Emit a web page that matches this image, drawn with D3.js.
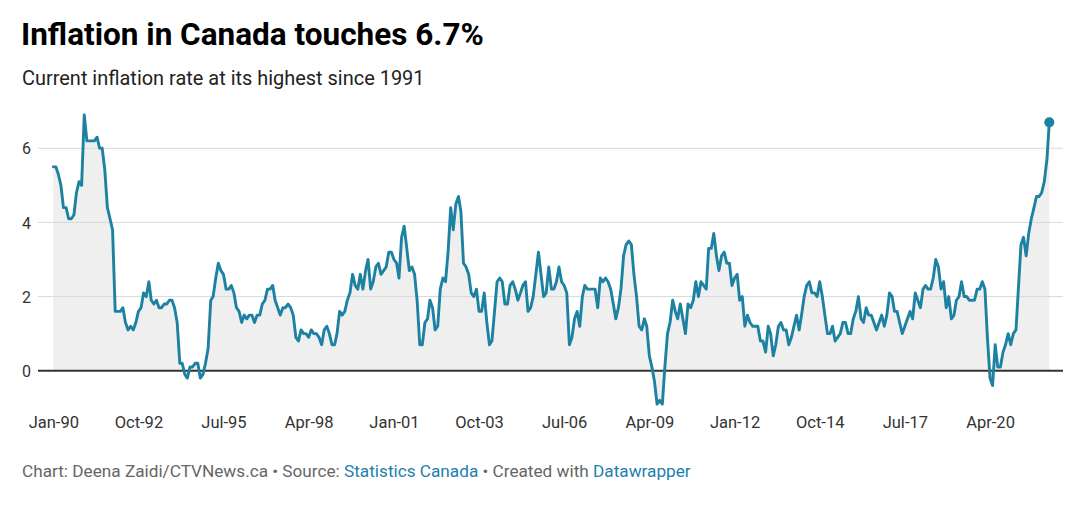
<!DOCTYPE html>
<html>
<head>
<meta charset="utf-8">
<script src="https://cdn.jsdelivr.net/npm/d3@7"></script>
<style>
  html, body { margin: 0; padding: 0; background: #fff; }
  svg { display: block; font-family: Roboto, "Noto Sans", sans-serif; }
</style>
</head>
<body>
<svg id="chart" width="1080" height="531"></svg>
<script>
// ---- Data: Canada CPI, 12-month % change, monthly from Jan-1990 ----
const startMonth = "1990-01";
const values1990s = [
  5.5, 5.5, 5.3, 5.0, 4.4, 4.4, 4.1, 4.1, 4.2, 4.8, 5.1, 5.0,
  6.9, 6.2, 6.2, 6.2, 6.2, 6.3, 6.0, 6.0, 5.4, 4.4, 4.1, 3.8,
  1.6, 1.6, 1.6, 1.7, 1.3, 1.1, 1.2, 1.1, 1.3, 1.6, 1.7, 2.1,
  2.0, 2.4, 1.9, 1.8, 1.9, 1.7, 1.7, 1.8, 1.8, 1.9, 1.9, 1.7,
  1.3, 0.2, 0.2, -0.1, -0.2, 0.1, 0.1, 0.2, 0.2, -0.2, -0.1, 0.2,
  0.6, 1.9, 2.0, 2.5, 2.9, 2.7, 2.6, 2.2, 2.2, 2.3, 2.1, 1.7,
  1.6, 1.3, 1.5, 1.4, 1.5, 1.5, 1.3, 1.5, 1.5, 1.8, 1.9, 2.2,
  2.2, 2.3, 1.9, 1.7, 1.5, 1.7, 1.7, 1.8, 1.7, 1.5, 0.9, 0.8,
  1.1, 1.0, 1.0, 0.9, 1.1, 1.0, 1.0, 0.9, 0.7, 1.1, 1.2, 1.0,
  0.7, 0.7, 1.0, 1.6, 1.5, 1.6, 1.9, 2.1, 2.6, 2.3, 2.2, 2.6
];
const values2000s = [
  2.2, 2.7, 3.0, 2.2, 2.4, 2.8, 2.9, 2.6, 2.7, 2.8, 3.2, 3.2,
  3.0, 2.9, 2.5, 3.6, 3.9, 3.3, 2.7, 2.8, 2.6, 1.9, 0.7, 0.7,
  1.3, 1.4, 1.9, 1.7, 1.1, 1.2, 2.2, 2.5, 2.4, 3.2, 4.4, 3.8,
  4.5, 4.7, 4.3, 2.9, 2.8, 2.6, 2.1, 2.0, 2.2, 1.6, 1.6, 2.1,
  1.3, 0.7, 0.8, 1.6, 2.4, 2.5, 2.4, 1.8, 1.8, 2.3, 2.4, 2.2,
  1.9, 2.1, 2.3, 2.4, 1.6, 1.7, 2.0, 2.6, 3.2, 2.6, 2.0, 2.1,
  2.8, 2.2, 2.2, 2.4, 2.8, 2.4, 2.3, 2.1, 0.7, 0.9, 1.4, 1.6,
  1.2, 2.0, 2.3, 2.2, 2.2, 2.2, 2.2, 1.7, 2.5, 2.4, 2.5, 2.4,
  2.2, 1.8, 1.4, 1.7, 2.2, 3.1, 3.4, 3.5, 3.4, 2.6, 2.0, 1.2,
  1.1, 1.4, 1.2, 0.4, 0.1, -0.3, -0.9, -0.8, -0.9, 0.1, 1.0, 1.3
];
const values2010s = [
  1.9, 1.6, 1.4, 1.8, 1.4, 1.0, 1.8, 1.7, 1.9, 2.4, 2.0, 2.4,
  2.3, 2.2, 3.3, 3.3, 3.7, 3.1, 2.7, 3.1, 3.2, 2.9, 2.9, 2.3,
  2.5, 2.6, 1.9, 2.0, 1.2, 1.5, 1.3, 1.2, 1.2, 1.2, 0.8, 0.8,
  0.5, 1.2, 1.0, 0.4, 0.7, 1.2, 1.3, 1.1, 1.1, 0.7, 0.9, 1.2,
  1.5, 1.1, 1.5, 2.0, 2.3, 2.4, 2.1, 2.1, 2.0, 2.4, 2.0, 1.5,
  1.0, 1.0, 1.2, 0.8, 0.9, 1.0, 1.3, 1.3, 1.0, 1.0, 1.4, 1.6,
  2.0, 1.4, 1.3, 1.7, 1.5, 1.5, 1.3, 1.1, 1.3, 1.5, 1.2, 1.5,
  2.1, 2.0, 1.6, 1.6, 1.3, 1.0, 1.2, 1.4, 1.6, 1.4, 2.1, 1.9,
  1.7, 2.2, 2.3, 2.2, 2.2, 2.5, 3.0, 2.8, 2.2, 2.4, 1.7, 2.0,
  1.4, 1.5, 1.9, 2.0, 2.4, 2.0, 2.0, 1.9, 1.9, 1.9, 2.2, 2.2
];
const values2020s = [
  2.4, 2.2, 0.9, -0.2, -0.4, 0.7, 0.1, 0.1, 0.5, 0.7, 1.0, 0.7,
  1.0, 1.1, 2.2, 3.4, 3.6, 3.1, 3.7, 4.1, 4.4, 4.7, 4.7, 4.8,
  5.1, 5.7, 6.7
];
const xTickLabels = ["Jan-90","Oct-92","Jul-95","Apr-98","Jan-01","Oct-03","Jul-06","Apr-09","Jan-12","Oct-14","Jul-17","Apr-20"];
const yTickValues = [0, 2, 4, 6];

const titleText = "Inflation in Canada touches 6.7%";
const subtitleText = "Current inflation rate at its highest since 1991";

// ---- Build series ----
const allValues = values1990s.concat(values2000s, values2010s, values2020s);
const start = d3.timeParse("%Y-%m")(startMonth);
const series = allValues.map((v, i) => ({ date: d3.timeMonth.offset(start, i), value: v }));
const parseTick = d3.timeParse("%b-%y");
const tickDates = xTickLabels.map(parseTick);

// ---- Layout ----
const svg = d3.select("#chart");
const lineColor = "#1d81a2";
const plotLeft = 53.3, plotRight = 1049.3;
const gridLeft = 38, gridRight = 1063;

const x = d3.scaleTime()
  .domain([series[0].date, series[series.length - 1].date])
  .range([plotLeft, plotRight]);
const y = d3.scaleLinear().domain([0, 6]).range([370.7, 148.3]);

svg.append("rect").attr("width", 1080).attr("height", 531).attr("fill", "#fff");

// Title & subtitle
svg.append("text").attr("x", 21).attr("y", 45)
  .attr("font-size", 31.5).attr("font-weight", 700).attr("fill", "#000")
  .text(titleText);
svg.append("text").attr("x", 22).attr("y", 85)
  .attr("font-size", 19.95).attr("fill", "#222")
  .text(subtitleText);

// Area
const area = d3.area()
  .x(d => x(d.date)).y0(y(0)).y1(d => y(d.value));
svg.append("path").datum(series)
  .attr("d", area).attr("fill", "#efefef");

// Gridlines
const grid = svg.append("g");
grid.selectAll("line").data(yTickValues.filter(v => v !== 0)).join("line")
  .attr("x1", gridLeft).attr("x2", gridRight)
  .attr("y1", d => y(d)).attr("y2", d => y(d))
  .attr("stroke", "#d9d9d9").attr("stroke-width", 1);

// Y axis labels
const yAxis = d3.axisLeft(y).tickValues(yTickValues).tickSize(0).tickFormat(d3.format("d"));
const gy = svg.append("g").attr("transform", "translate(22,0)").call(yAxis);
gy.select(".domain").remove();
gy.selectAll("text").attr("x", 0).attr("dy", "0.35em")
  .attr("text-anchor", "start")
  .attr("font-family", "Roboto, sans-serif").attr("font-size", 16).attr("fill", "#333");

// Baseline at zero
svg.append("line")
  .attr("x1", gridLeft).attr("x2", gridRight)
  .attr("y1", y(0)).attr("y2", y(0))
  .attr("stroke", "#333").attr("stroke-width", 2);

// X axis labels
const xAxis = d3.axisBottom(x).tickValues(tickDates).tickSize(0)
  .tickFormat((d, i) => xTickLabels[i]);
const gx = svg.append("g").attr("transform", "translate(0,416)").call(xAxis);
gx.select(".domain").remove();
gx.selectAll("text").attr("y", 0).attr("dy", "0.71em")
  .attr("font-family", "Roboto, sans-serif").attr("font-size", 16.5).attr("fill", "#333");

// Line
const line = d3.line().x(d => x(d.date)).y(d => y(d.value));
svg.append("path").datum(series)
  .attr("d", line).attr("fill", "none")
  .attr("stroke", lineColor).attr("stroke-width", 2.9)
  .attr("stroke-linejoin", "round").attr("stroke-linecap", "round");

// End point
const last = series[series.length - 1];
svg.append("circle")
  .attr("cx", x(last.date)).attr("cy", y(last.value)).attr("r", 5)
  .attr("fill", lineColor);

// Footer
const footer = svg.append("text").attr("x", 22).attr("y", 477)
  .attr("font-size", 17.2).attr("fill", "#666");
footer.append("tspan").text("Chart: Deena Zaidi/CTVNews.ca • Source: ");
footer.append("tspan").attr("fill", "#1d7fae").text("Statistics Canada");
footer.append("tspan").text(" • Created with ");
footer.append("tspan").attr("fill", "#1d7fae").text("Datawrapper");
</script>
</body>
</html>
